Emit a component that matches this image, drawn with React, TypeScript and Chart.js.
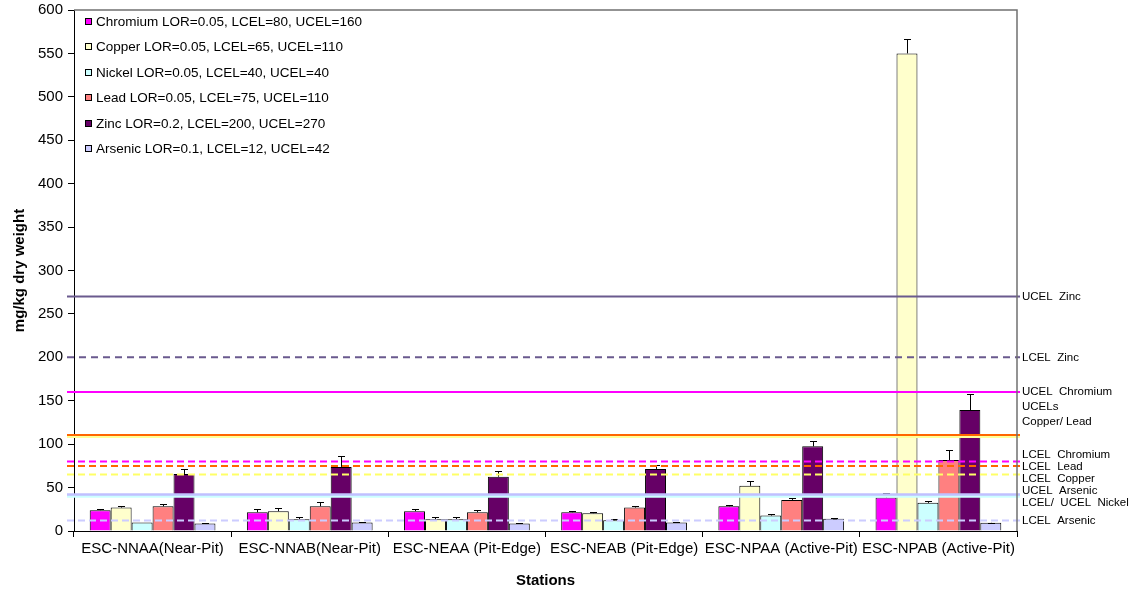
import React, { useEffect, useRef } from "react";
import { Chart, registerables } from "chart.js";

Chart.register(...registerables);

const stations = [
  "ESC-NNAA(Near-Pit)",
  "ESC-NNAB(Near-Pit)",
  "ESC-NEAA (Pit-Edge)",
  "ESC-NEAB (Pit-Edge)",
  "ESC-NPAA (Active-Pit)",
  "ESC-NPAB (Active-Pit)",
];

const seriesLabels = [
  "Chromium LOR=0.05, LCEL=80, UCEL=160",
  "Copper LOR=0.05, LCEL=65, UCEL=110",
  "Nickel LOR=0.05, LCEL=40, UCEL=40",
  "Lead LOR=0.05, LCEL=75, UCEL=110",
  "Zinc LOR=0.2, LCEL=200, UCEL=270",
  "Arsenic LOR=0.1, LCEL=12, UCEL=42",
];

const chromium = [24, 21.6, 22.8, 21.6, 28.5, 38.5];
const copper = [27, 22.8, 13.6, 20.5, 52, 550];
const nickel = [9.8, 13.6, 13.6, 12.4, 17.8, 32.4];
const lead = [28.5, 28.5, 21.6, 27, 35.8, 81.8];
const zinc = [65.7, 73.8, 62.6, 71.5, 97.5, 139.3];
const arsenic = [8.6, 9.8, 8.6, 9.8, 14, 9.4];

const chromiumErr = [1.5, 4, 3, 1.5, 1.2, 5];
const copperErr = [1.5, 4, 3, 1.5, 5.3, 17];
const nickelErr = [0, 2.7, 3, 1.2, 1.5, 2.3];
const leadErr = [2.3, 5, 2.7, 1.5, 1.9, 12];
const zincErr = [6, 12, 6.6, 4.5, 6.5, 18.4];
const arsenicErr = [0.8, 0.3, 0.3, 0.3, 1.2, 0.3];

const yTicksMin = 0;
const yTicksMax = 600;
const yTickStep = 50;

// guideline values (mg/kg)
const limitValues = [270, 200, 160, 110, 110, 80, 75, 65, 40, 42, 12];
// guideline label texts and anchor values
const limitLabelTexts = [
  "UCEL  Zinc",
  "LCEL  Zinc",
  "UCEL  Chromium",
  "UCELs",
  "Copper/ Lead",
  "LCEL  Chromium",
  "LCEL  Lead",
  "LCEL  Copper",
  "UCEL  Arsenic",
  "LCEL/  UCEL  Nickel",
  "LCEL  Arsenic",
];
const limitLabelAt = [270, 200, 160, 143, 126, 88, 74, 60, 46.5, 33, 12];

const barColors = ["#ff00ff", "#ffffcc", "#ccffff", "#ff8080", "#660066", "#ccccff"];
const limitStyles = [
  { color: "#6a5a8e", dash: [] as number[], width: 2, shift: 0 },
  { color: "#6a5a8e", dash: [7, 5], width: 2, shift: 0 },
  { color: "#ff00ff", dash: [], width: 2, shift: 0 },
  { color: "#ffff99", dash: [], width: 2, shift: 1.5 },
  { color: "#ff6600", dash: [], width: 2, shift: -0.5 },
  { color: "#ff00ff", dash: [7, 4], width: 2, shift: 0 },
  { color: "#ff6600", dash: [7, 4], width: 2, shift: 0 },
  { color: "#ffff66", dash: [7, 4], width: 2, shift: 0 },
  { color: "#ccffff", dash: [], width: 3, shift: 0 },
  { color: "#c0c0ff", dash: [], width: 2.5, shift: 0 },
  { color: "#ccccff", dash: [7, 4], width: 2, shift: 0 },
];

const FONT = '"Liberation Sans", Arial, Helvetica, sans-serif';

export default function App() {
  const ref = useRef<HTMLCanvasElement | null>(null);

  useEffect(() => {
    if (!ref.current) return;
    Chart.defaults.font.family = FONT;
    const values = [chromium, copper, nickel, lead, zinc, arsenic];
    const errs = [chromiumErr, copperErr, nickelErr, leadErr, zincErr, arsenicErr];

    const overlay = {
      id: "overlay",
      afterDatasetsDraw(chart: any) {
        const ctx = chart.ctx;
        const ys = chart.scales.y;
        const { left, right, top, bottom } = chart.chartArea;
        ctx.save();
        // error bars
        ctx.strokeStyle = "#000";
        ctx.lineWidth = 1;
        chart.data.datasets.forEach((ds: any, i: number) => {
          const meta = chart.getDatasetMeta(i);
          meta.data.forEach((bar: any, j: number) => {
            const e = errs[i][j];
            if (!e) return;
            const yTop = Math.round(ys.getPixelForValue(values[i][j] + e)) + 0.5;
            const yBar = bar.y;
            const x = Math.round(bar.x) + 0.5;
            ctx.beginPath();
            ctx.moveTo(x, yBar);
            ctx.lineTo(x, yTop);
            ctx.moveTo(x - 3.5, yTop);
            ctx.lineTo(x + 3.5, yTop);
            ctx.stroke();
          });
        });
        // guideline lines
        limitValues.forEach((v, k) => {
          const st = limitStyles[k];
          const y = ys.getPixelForValue(v) + st.shift;
          ctx.beginPath();
          ctx.setLineDash(st.dash);
          ctx.strokeStyle = st.color;
          ctx.lineWidth = st.width;
          ctx.moveTo(left - 7, y);
          ctx.lineTo(right + 3, y);
          ctx.stroke();
        });
        ctx.setLineDash([]);
        // plot frame (top / right)
        ctx.strokeStyle = "#707070";
        ctx.lineWidth = 1.5;
        ctx.beginPath();
        ctx.moveTo(left, top);
        ctx.lineTo(right, top);
        ctx.lineTo(right, bottom);
        ctx.stroke();
        // guideline labels
        ctx.fillStyle = "#000";
        ctx.font = "11.5px " + FONT;
        ctx.textBaseline = "middle";
        ctx.textAlign = "left";
        limitLabelTexts.forEach((t, k) => {
          ctx.fillText(t, right + 5, ys.getPixelForValue(limitLabelAt[k]));
        });
        // legend
        ctx.font = "13.5px " + FONT;
        chart.data.datasets.forEach((ds: any, i: number) => {
          const y = Math.round(top + 12 + i * 25.4);
          ctx.fillStyle = ds.backgroundColor;
          ctx.fillRect(left + 11, y - 4, 7, 7);
          ctx.strokeStyle = "#000";
          ctx.lineWidth = 1;
          ctx.strokeRect(left + 11.5, y - 3.5, 6, 6);
          ctx.fillStyle = "#000";
          ctx.fillText(ds.label, left + 22, y);
        });
        ctx.restore();
      },
    };

    const chart = new Chart(ref.current, {
      type: "bar",
      data: {
        labels: stations,
        datasets: seriesLabels.map((label, i) => ({
          label,
          data: values[i],
          backgroundColor: barColors[i],
          borderColor: "#000",
          borderWidth: 1,
          categoryPercentage: 0.8,
          barPercentage: 1.0,
        })),
      },
      options: {
        responsive: false,
        animation: false,
        devicePixelRatio: 1,
        layout: { padding: { top: 10, right: 118, left: 0, bottom: 0 } },
        plugins: {
          legend: { display: false },
          tooltip: { enabled: false },
        },
        scales: {
          x: {
            type: "category",
            grid: {
              offset: true,
              drawOnChartArea: false,
              drawTicks: true,
              tickLength: 6,
              color: "#000",
            },
            border: { color: "#000", width: 1 },
            ticks: {
              color: "#000",
              font: { size: 15, family: FONT },
              maxRotation: 0,
              autoSkip: false,
              padding: 3,
            },
            title: {
              display: true,
              text: "Stations",
              color: "#000",
              font: { size: 15, weight: "bold", family: FONT },
              padding: { top: 4, bottom: 2 },
            },
            afterFit(scale: any) {
              scale.height = 61;
              scale.paddingLeft = 0;
              scale.paddingRight = 0;
            },
          },
          y: {
            min: yTicksMin,
            max: yTicksMax,
            grid: {
              drawOnChartArea: false,
              drawTicks: true,
              tickLength: 6,
              color: "#000",
            },
            border: { color: "#000", width: 1 },
            ticks: {
              stepSize: yTickStep,
              color: "#000",
              font: { size: 15, family: FONT },
              padding: 5,
            },
            title: {
              display: true,
              text: "mg/kg dry weight",
              color: "#000",
              font: { size: 15, weight: "bold", family: FONT },
              padding: { top: 11, bottom: 0 },
            },
            afterFit(scale: any) {
              scale.width = 74;
              scale.paddingTop = 0;
              scale.paddingBottom = 0;
            },
          },
        },
      },
      plugins: [overlay],
    } as any);
    return () => chart.destroy();
  }, []);

  return (
    <div style={{ position: "absolute", left: 0, top: 0, width: 1135, height: 592, background: "#fff" }}>
      <canvas ref={ref} width={1135} height={592} />
    </div>
  );
}
